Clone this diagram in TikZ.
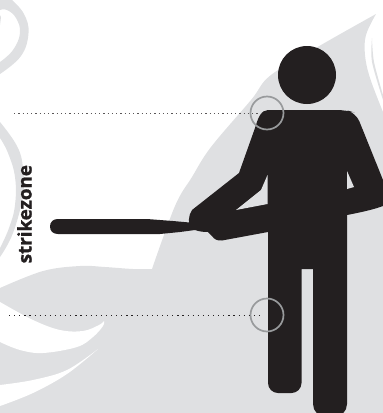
\documentclass[tikz,border=0pt]{standalone}
\usepackage{fontspec}
\setmainfont{Open Sans}
\newfontfamily\labelfont[FakeBold=1.4]{Open Sans Bold}
\definecolor{swirl}{HTML}{DFE0E2}
\definecolor{ink}{HTML}{231F20}
\definecolor{ringgray}{HTML}{989A9C}
\tikzset{
  swirlfill/.style={fill=swirl,draw=none},
  voidfill/.style={fill=white,draw=none},
  inkfill/.style={fill=ink,draw=none},
  ring/.style={circle,draw=ringgray,line width=1.7pt,minimum size=33pt,inner sep=0pt,fill=none},
  guide/.style={draw=ink,line width=1pt,line cap=butt},
}
\begin{document}
\begin{tikzpicture}[x=1pt,y=-1pt]
\useasboundingbox (0,0) rectangle (383,413);
\clip (0,0) rectangle (383,413);
% large swirl
\fill[swirlfill] plot[smooth,tension=0.6] coordinates {(376,14) (321,45) (271,75) (251,100) (211,147) (192,177) (175,206) (152,269)}
  -- plot[smooth,tension=0.6] coordinates {(152,269) (133,269) (105,267) (80,266) (43,271) (0,288)}
  -- (0,413) -- (383,413) -- (383,112)
  -- plot[smooth,tension=0.6] coordinates {(383,112) (370,78) (365,55) (366,35) (376,14)} -- cycle;
% white swooshes
\fill[voidfill] plot[smooth,tension=0.6] coordinates {(0,302) (33,320) (60,330) (83,331) (99,325) (104,321)}
  -- plot[smooth,tension=0.6] coordinates {(104,321) (103,326) (93,337) (77,347) (43,353) (20,350) (0,342)} -- cycle;
\fill[voidfill] plot[smooth,tension=0.6] coordinates {(98,349) (67,370) (33,380) (0,385)}
  -- (0,406)
  -- plot[smooth,tension=0.6] coordinates {(0,406) (33,393) (67,374) (98,349)} -- cycle;
% sliver at the right
\fill[swirlfill] plot[smooth] coordinates {(372,38) (372,62) (383,100)}
  -- plot[smooth] coordinates {(383,95) (374,62) (372,38)} -- cycle;
% top left loop
\fill[swirlfill] plot[smooth,tension=0.7] coordinates {(12,0) (24,14) (28.5,33) (21,56) (0,74)}
  -- (0,62)
  -- plot[smooth,tension=0.7] coordinates {(0,62) (13,50) (20,33) (16,18) (7,10) (0,10)}
  -- (0,0) -- cycle;
\fill[swirlfill] (0,15) -- (1,17) -- (0,25) -- cycle;
% lower left arc
\fill[swirlfill] plot[smooth,tension=0.7] coordinates {(0,122) (17,146) (23,168) (23,195) (13,233) (0,257)}
  -- (0,248)
  -- plot[smooth,tension=0.7] coordinates {(0,248) (9,228) (15,205) (15,177) (8,153) (0,138)} -- cycle;
% figure
\node[circle,fill=ink,draw=none,minimum size=58pt,inner sep=0pt] (head) at (307,75) {};
\fill[inkfill,rounded corners=9pt]
  (268,110) -- (346,110) -- (356,113) [sharp corners] -- (383,180) -- (383,206)
  .. controls (375,209) and (365,211.5) .. (347,215)
  [rounded corners=13pt] -- (347,417) -- (313,417) [sharp corners] -- (313,269) -- (301.5,269)
  [rounded corners=10pt] -- (301.5,393) -- (268,393) [sharp corners] -- (268,232)
  -- (222,240.5) .. controls (217,241) and (214,239) .. (212,236)
  -- (208,232) .. controls (203,232) and (199,231.5) .. (195,230)
  -- (191,229) .. controls (188,224) and (188,216) .. (192,210)
  -- (239,173) -- (255,128) .. controls (258,118) and (261,110) .. (268,110) -- cycle;
% bat
\fill[inkfill] (58,219) -- (147,219) -- (173,221) -- (195,223) -- (195,230) -- (180,232) -- (160,234) -- (58,234)
  .. controls (53,234) and (50,231) .. (50,226.5) .. controls (50,222) and (53,219) .. (58,219) -- cycle;
% gaps
\fill[swirlfill] (267.5,175) -- (261,190) -- (236,210) -- (267.5,204) -- cycle;
\fill[swirlfill] (347,171) -- (354,187) -- (347,189) -- cycle;
% rings and guides
\node[ring] (upper) at (267,113) {};
\node[ring] (lower) at (267,315) {};
\coordinate (upstart) at (14,113);
\coordinate (upend) at (263,113);
\coordinate (lowstart) at (9,315);
\coordinate (lowend) at (263,315);
\draw[guide,dash pattern=on 1.3pt off 2.95pt,draw=ink!75] (upstart) -- (upend);
\draw[guide,dash pattern=on 1.2pt off 3.9pt] (lowstart) -- (lowend);
\node[rotate=90,anchor=base west,inner sep=0pt,text=ink,font=\labelfont\fontsize{18.8}{19}\selectfont] (label) at (31.5,263.5) {strikezone};
\end{tikzpicture}
\end{document}
